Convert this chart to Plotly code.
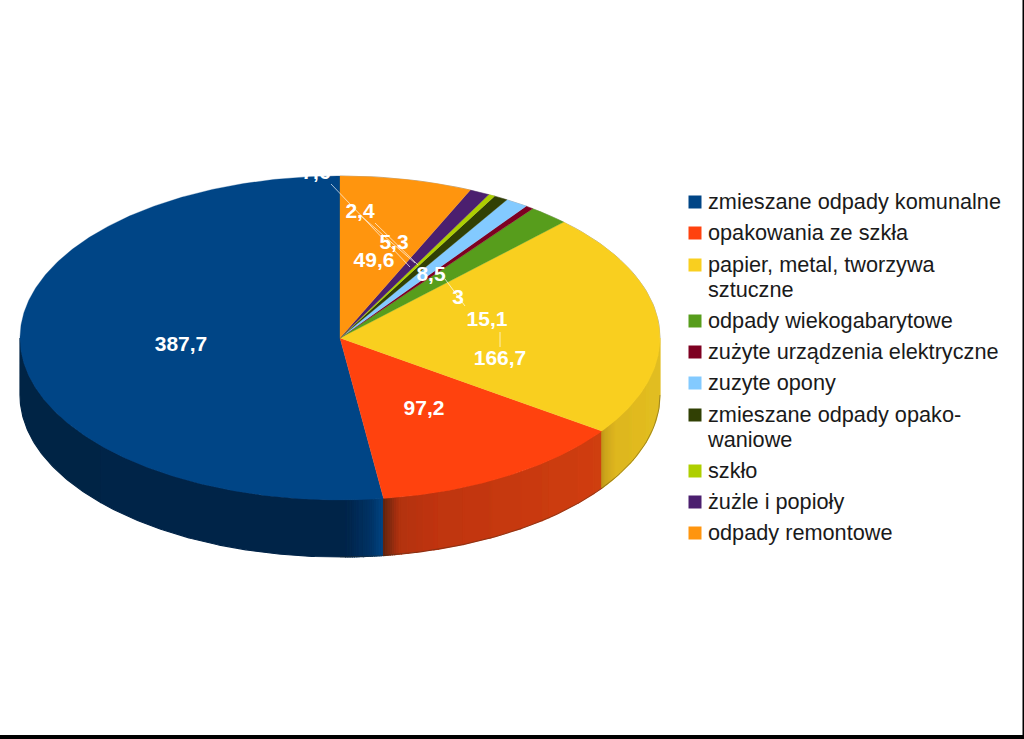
import numpy as np
import plotly.graph_objects as go

# ---- data ----
categories = ["zmieszane odpady komunalne", "opakowania ze szkła",
              "papier, metal, tworzywa<br>sztuczne", "odpady wiekogabarytowe",
              "zużyte urządzenia elektryczne", "zuzyte opony",
              "zmieszane odpady opako-<br>waniowe", "szkło", "żużle i popioły",
              "odpady remontowe"]
values = [387.7, 97.2, 166.7, 15.1, 3, 8.5, 5.3, 2.4, 7.6, 49.6]
value_labels = ["387,7", "97,2", "166,7", "15,1", "3", "8,5", "5,3", "2,4", "7,6", "49,6"]

# ---- style and layout ----
colors = ["#004586", "#ff420e", "#f9cf1f", "#579d1c", "#7e0021",
          "#83caff", "#314004", "#aecf00", "#4b1f6f", "#ff950e"]
W, H = 1024, 739
CX, CY, RX, RY, DEPTH = 340, 338, 320, 162, 57
label_xy = [(181, 346), (424, 410), (500, 360), (487, 321), (458, 299),
            (431, 276), (394, 244), (360, 213), (316, 174), (374, 262)]
leaders = [((331, 184), (410, 267)), ((360, 215), (415, 263)), ((375, 223), (418, 265)),
           ((445, 279), (465, 306)), ((500, 332), (500, 347))]
legend_x, legend_text_x = 695, 708
legend_y = [202, 233, 265, 321, 352, 383, 415, 471, 502, 533]
legend_line_gap = 25
legend_text_dy = 1.5
# side-wall shading: pixel x -> colour stops, for the slices whose wall is visible
side_stops = {
    0: ([20, 345, 372, 384], [(0, 35, 70), (0, 35, 72), (0, 52, 102), (0, 69, 134)]),
    1: ([384, 388, 400, 430, 602], [(95, 36, 16), (120, 40, 14), (178, 50, 14), (190, 52, 14), (208, 62, 16)]),
    2: ([602, 606, 616, 660], [(190, 150, 25), (205, 165, 28), (222, 182, 30), (226, 190, 32)]),
}


def pt(theta, dy=0.0):
    """Ellipse point; theta in degrees counter-clockwise from 12 o'clock."""
    t = np.radians(theta)
    return CX - RX * np.sin(t), CY - RY * np.cos(t) + dy


fig = go.Figure()
total = sum(values)
edges = np.concatenate([[0], np.cumsum(values)]) / total * 360


def add_wall(a0, a1, col):
    g = np.linspace(a0, a1, max(int((a1 - a0) / 0.5), 1) + 1)
    xt, yt = pt(g)
    xb, yb = pt(g[::-1], DEPTH)
    fig.add_trace(go.Scatter(x=np.r_[xt, xb, xt[0]], y=np.r_[yt, yb, yt[0]],
                             mode="lines", fill="toself", fillcolor=col,
                             line=dict(color=col, width=1.2),
                             hoverinfo="skip", showlegend=False))


# side walls: shaded runs of equal colour
for i, (stops_x, stops_c) in side_stops.items():
    a0, a1 = max(edges[i], 90), min(edges[i + 1], 270)
    grid = np.linspace(a0, a1, int((a1 - a0) / 0.4) + 1)
    run_start, run_col = grid[0], None
    for g0, g1 in zip(grid[:-1], grid[1:]):
        xm = (pt(g0)[0] + pt(g1)[0]) / 2
        c = [int(round(np.interp(xm, stops_x, [s[k] for s in stops_c]) / 3) * 3) for k in range(3)]
        col = f"rgb({c[0]},{c[1]},{c[2]})"
        if run_col is None:
            run_col = col
        elif col != run_col:
            add_wall(run_start, g0, run_col)
            run_start, run_col = g0, col
    add_wall(run_start, a1, run_col)

# thin dark rim along the outer edge
rim = np.linspace(0, 90, 60)
rx_, ry_ = pt(-rim)
fig.add_trace(go.Scatter(x=rx_, y=ry_, mode="lines",
                         line=dict(color="rgba(50,45,30,0.55)", width=0.7),
                         hoverinfo="skip", showlegend=False))
rim = np.linspace(180, 270, 60)
rx_, ry_ = pt(rim, DEPTH)
fig.add_trace(go.Scatter(x=rx_, y=ry_, mode="lines",
                         line=dict(color="rgba(50,45,30,0.55)", width=0.7),
                         hoverinfo="skip", showlegend=False))

# top faces
for i, name in enumerate(categories):
    th = np.linspace(edges[i], edges[i + 1], max(int(values[i] / total * 720), 2) + 1)
    px_, py_ = pt(th)
    fig.add_trace(go.Scatter(x=np.r_[CX, px_, CX], y=np.r_[CY, py_, CY],
                             mode="lines", fill="toself", fillcolor=colors[i],
                             line=dict(color=colors[i], width=0.3),
                             name=name.replace("<br>", " "),
                             text=value_labels[i], hoverinfo="name+text", showlegend=False))

# leader lines
for (a, b) in leaders:
    fig.add_trace(go.Scatter(x=[a[0], b[0]], y=[a[1], b[1]], mode="lines",
                             line=dict(color="rgba(255,255,255,0.85)", width=0.8),
                             hoverinfo="skip", showlegend=False))

# value labels
fig.add_trace(go.Scatter(x=[p[0] for p in label_xy], y=[p[1] for p in label_xy],
                         mode="text", text=value_labels, textposition="middle center",
                         textfont=dict(family="Liberation Sans", size=21, color="white", weight="bold"),
                         hoverinfo="skip", showlegend=False))

# legend: square keys and one text point per line
fig.add_trace(go.Scatter(x=[legend_x] * len(categories), y=legend_y,
                         mode="markers", marker=dict(symbol="square", size=13, color=colors),
                         hoverinfo="skip", showlegend=False))
line_text, line_y = [], []
for y, c in zip(legend_y, categories):
    for k, part in enumerate(c.split("<br>")):
        line_text.append(part)
        line_y.append(y + k * legend_line_gap + legend_text_dy)
fig.add_trace(go.Scatter(x=[legend_text_x] * len(line_text), y=line_y,
                         mode="text", text=line_text, textposition="middle right",
                         textfont=dict(family="Liberation Sans", size=21.7, color="#1a1a1a"),
                         hoverinfo="skip", showlegend=False))

fig.update_layout(
    width=W, height=H, margin=dict(l=0, r=0, t=0, b=0),
    paper_bgcolor="white", plot_bgcolor="white", showlegend=False,
    xaxis=dict(range=[0, W], visible=False, fixedrange=True),
    yaxis=dict(range=[H, 0], visible=False, fixedrange=True),
    shapes=[
        dict(type="rect", xref="x", yref="y", x0=0, x1=W, y0=735, y1=H,
             fillcolor="black", line_width=0),
        dict(type="rect", xref="x", yref="y", x0=1022.5, x1=W, y0=0, y1=H,
             fillcolor="black", line_width=0),
    ],
)
fig.write_html("out.html", config=dict(displayModeBar=False),
               post_script="document.body.style.margin='0';window.dispatchEvent(new Event('resize'));")
